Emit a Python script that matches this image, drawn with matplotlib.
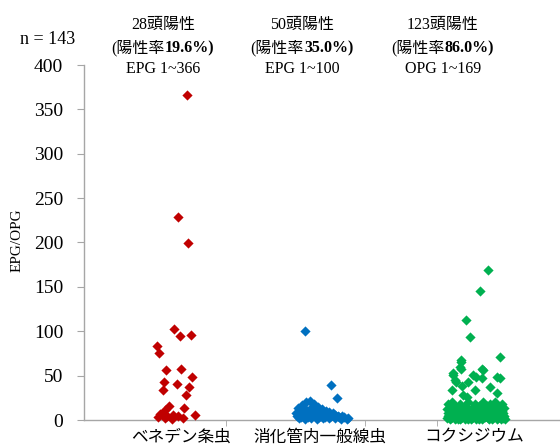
import matplotlib
matplotlib.use("Agg")  # non-GUI backend for scripts
import matplotlib.pyplot as plt

# --- data ---
categories = ["ベネデン条虫", "消化管内一般線虫", "コクシジウム"]
positives = [28, 50, 123]
rates = ["19.6%)", "35.0%)", "86.0%)"]
ranges = ["EPG 1~366", "EPG 1~100", "OPG 1~169"]
n_total = 143

# ベネデン条虫 (EPG) and horizontal jitter (px from category centre)
red_vals = [366, 229, 199, 102, 95, 96, 83, 76, 56, 58, 49, 43, 41, 37,
            34, 28, 16, 14, 11, 6, 7, 5, 6, 4, 2, 3, 2, 1]
red_jit = [17, 8, 18, 4, 10, 21, -13, -11, -4, 11, 22, -6, 7, 19,
           -7, 16, -1, 14, -5, 25, -10, -3, 3, 8, 13, -12, -5, 2]

# 消化管内一般線虫 (EPG)
blue_vals = [100, 40, 25, 20, 21, 17, 18, 14, 13, 14, 15, 12, 9, 9, 10, 8,
             10, 5, 5, 6, 4, 5, 6, 8, 5, 3, 2, 1, 2, 1, 2, 2, 2, 1, 1, 3,
             3, 3, 3, 4, 3, 11, 11, 8, 7, 9, 6, 4, 2, 6]
blue_jit = [-13, 13, 19, -12, -8, -16, -4, -20, -14, -7, 0, 4, -18, -11, -5,
            2, 8, -21, -15, -9, -3, 3, 9, 15, 20, 26, -19, -13, -7, -1, 5,
            11, 17, 23, 29, -17, -10, 1, 7, 13, 21, -16, -2, -22, -6, 11, 17,
            24, 30, 0]

# コクシジウム (OPG)
green_vals = [169, 145, 113, 94, 71, 68, 65, 60, 58, 57, 56, 53, 51, 51, 49,
              49, 47, 47, 45, 43, 43, 38, 37, 34, 34, 30, 28, 26,
              20, 20, 20, 20, 18, 18, 18, 18, 18, 16, 16, 16, 16, 16,
              14, 14, 14, 14, 14, 14, 12, 12, 12, 12, 12, 12,
              10, 10, 10, 10, 10, 10, 9, 9, 9, 9, 8, 8, 8, 8, 8,
              7, 7, 7, 7, 7, 6, 6, 6, 6, 6, 6, 5, 5, 5, 5, 5, 5,
              4, 4, 4, 4, 4, 4, 3, 3, 3, 3, 3, 3, 2, 2, 2, 2, 2, 2,
              1, 1, 1, 1, 1, 1, 1, 1, 1, 1,
              1, 1, 1, 1, 1, 2, 2, 2, 2, 2, 2, 3, 3, 3]
green_jit = [22, 14, 0, 4, 34, -5, -5, -6, -5, 16, 17, -13, -13, 7, 10,
             31, 16, 34, -11, -10, 2, -4, 24, -14, 9, 31, -3, 1,
             -14, 2, 17, 29, -18, -6, 9, 24, 36, -11, -1, 13, 21, 32,
             -16, -4, 6, 18, 28, 38, -19, -9, 2, 12, 23, 33,
             -14, -3, 7, 16, 26, 36, -8, 4, 20, 31, -18, 0, 11, 25, 37,
             -12, -4, 8, 18, 30, -17, -7, 3, 14, 23, 34, -13, -1, 10, 20, 28, 38,
             -18, -8, 4, 15, 25, 33, -14, -4, 7, 19, 30, 37, -19, -10, 1, 12, 22, 32,
             -16, -6, 5, 16, 26, 35, 39, -11, -1, 10,
             -8, 2, 13, 23, 31, -15, -5, 6, 17, 27, 37, -9, 2, 24]

colors = ["#C00000", "#0070C0", "#00B050"]
series = [(red_vals, red_jit), (blue_vals, blue_jit), (green_vals, green_jit)]

W, H = 560, 448
SERIF = ["Liberation Serif", "Noto Sans CJK JP"]
SANS = ["Noto Sans CJK JP", "DejaVu Sans"]
CAT_PX = 148.0  # pixel distance between category centres

fig = plt.figure(figsize=(W / 100, H / 100), dpi=100)
ax = fig.add_axes([84 / W, 28 / H, 476 / W, 355 / H])

for i, (vals, jit) in enumerate(series):
    xs = [i + 1 + j / CAT_PX for j in jit]
    ax.scatter(xs, vals, marker="D", s=27, color=colors[i], linewidths=0,
               zorder=3, clip_on=False)

ax.set_xlim(0.419, 0.419 + 476 / CAT_PX)
ax.set_ylim(0, 400)
ax.set_yticks(range(0, 401, 50))
ax.set_yticklabels([str(v) for v in range(0, 401, 50)], family=SERIF,
                   fontsize=14)

# category labels (no marks) and small marks on the axis line
ax.set_xticks([1.075, 2.014, 3.054])
ax.set_xticklabels(categories, family=SANS, fontsize=12)
ax.tick_params(axis="x", length=0, pad=6)
ax.set_xticks([1.378, 2.318, 2.804], minor=True)
ax.tick_params(axis="x", which="minor", length=4, color="#A6A6A6")
ax.tick_params(axis="y", length=5, color="#A6A6A6", pad=10)

for side in ["top", "right"]:
    ax.spines[side].set_visible(False)
for side in ["left", "bottom"]:
    ax.spines[side].set_color("#A6A6A6")
    ax.spines[side].set_linewidth(1.0)

fig.text(17 / W, 1 - 240 / H, "EPG/OPG", family=SERIF, fontsize=11,
         rotation=90, ha="center", va="center")
fig.text(48 / W, 1 - 40 / H, f"n = {n_total}", family=SERIF, fontsize=13,
         ha="center", va="center")

renderer = fig.canvas.get_renderer()
header_x = [163, 302, 443]
for xc, pos, rate, rng in zip(header_x, positives, rates, ranges):
    fig.text(xc / W, 1 - 25 / H, f"{pos}頭陽性", family=SERIF, fontsize=11.5,
             ha="center", va="center")
    fig.text(xc / W, 1 - 69 / H, rng, family=SERIF, fontsize=11.5,
             ha="center", va="center")
    parts = [("(陽性率", "normal"), (rate, "bold")]
    texts = [fig.text(0, 1 - 48 / H, s, family=SERIF, fontsize=11.5,
                      fontweight=w, ha="left", va="center") for s, w in parts]
    widths = [t.get_window_extent(renderer).width for t in texts]
    x = xc - sum(widths) / 2
    for t, w in zip(texts, widths):
        t.set_x(x / W)
        x += w

fig.savefig("out.png", dpi=100)
plt.close(fig)
